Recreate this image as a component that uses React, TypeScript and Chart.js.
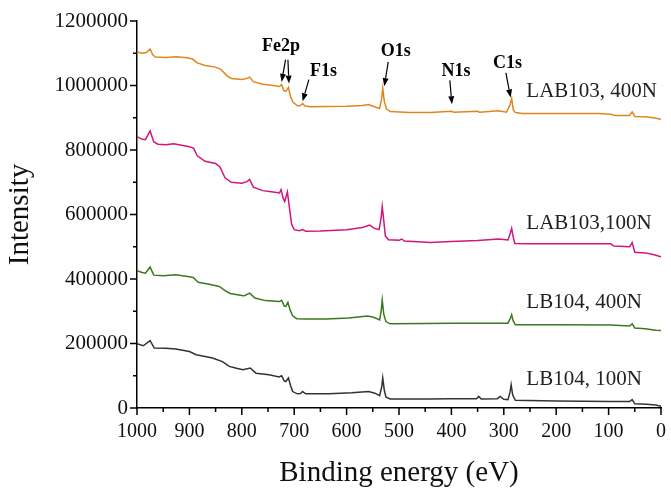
import React, { useEffect, useRef } from 'react';
import { Chart, registerables } from 'chart.js';

Chart.register(...registerables);

// ---------- data (binding energy in eV, intensity in counts) ----------
const lab103_400_ev = [1000, 990, 982, 975, 970, 965, 945, 925, 905, 894, 885, 870, 850, 840, 828, 820, 800, 790, 785, 778, 760, 740, 728, 724, 720, 716, 711, 707, 702, 694, 688, 684, 680, 670, 640, 600, 570, 558, 548, 537, 533, 531, 528, 524, 517, 480, 440, 400, 395, 350, 346, 310, 295, 288, 285, 282, 278, 265, 200, 120, 96, 88, 60, 55, 50, 30, 15, 0];
const lab103_400_int = [1104000, 1100000, 1102000, 1113000, 1095000, 1088000, 1087000, 1089000, 1086000, 1082000, 1070000, 1062000, 1057000, 1050000, 1030000, 1022000, 1019000, 1022000, 1026000, 1012000, 1004000, 1000000, 997000, 1003000, 985000, 982000, 994000, 965000, 948000, 937000, 938000, 944000, 937000, 934000, 935000, 936000, 938000, 941000, 935000, 929000, 960000, 992000, 950000, 928000, 919000, 916000, 916000, 920000, 917000, 920000, 917000, 922000, 917000, 940000, 960000, 925000, 916000, 913000, 913000, 913000, 911000, 907000, 907000, 918000, 904000, 903000, 900000, 895000];

const lab103_100_ev = [1000, 990, 984, 975, 968, 960, 945, 930, 915, 900, 892, 885, 870, 850, 842, 832, 820, 800, 790, 785, 778, 760, 740, 728, 725, 721, 718, 713, 709, 705, 700, 690, 684, 678, 650, 600, 570, 556, 547, 538, 534, 532, 529, 526, 520, 500, 495, 490, 440, 400, 350, 310, 292, 287, 285, 282, 279, 250, 150, 96, 90, 60, 55, 50, 30, 15, 0];
const lab103_100_int = [841000, 833000, 832000, 859000, 825000, 818000, 816000, 819000, 815000, 810000, 806000, 782000, 765000, 758000, 748000, 714000, 700000, 697000, 702000, 709000, 685000, 674000, 670000, 667000, 677000, 650000, 640000, 670000, 620000, 570000, 553000, 550000, 553000, 548000, 549000, 553000, 560000, 567000, 557000, 553000, 590000, 625000, 580000, 533000, 522000, 520000, 524000, 518000, 513000, 516000, 519000, 524000, 521000, 545000, 557000, 530000, 510000, 509000, 509000, 509000, 502000, 500000, 513000, 483000, 481000, 476000, 469000];

const lb104_400_ev = [1000, 990, 984, 975, 968, 950, 926, 900, 893, 883, 860, 843, 830, 822, 800, 795, 785, 775, 755, 735, 728, 724, 719, 716, 712, 708, 703, 695, 680, 640, 596, 560, 550, 545, 537, 534, 532, 529, 525, 517, 450, 400, 320, 292, 287, 285, 282, 278, 200, 96, 60, 55, 50, 30, 10, 0];
const lb104_400_int = [426000, 420000, 418000, 437000, 412000, 410000, 413000, 407000, 405000, 390000, 383000, 377000, 362000, 355000, 349000, 348000, 356000, 341000, 333000, 331000, 330000, 334000, 316000, 315000, 328000, 305000, 286000, 277000, 276000, 276000, 279000, 285000, 282000, 279000, 273000, 300000, 335000, 290000, 268000, 261000, 262000, 263000, 263000, 263000, 280000, 289000, 270000, 258000, 258000, 257000, 254000, 261000, 248000, 246000, 241000, 240000];

const lb104_100_ev = [1000, 988, 975, 967, 945, 926, 900, 887, 870, 856, 837, 824, 810, 798, 784, 773, 748, 729, 724, 719, 716, 711, 707, 703, 694, 688, 684, 678, 634, 590, 558, 546, 537, 533, 531, 528, 525, 517, 444, 400, 352, 348, 343, 312, 307, 300, 292, 288, 286, 283, 278, 200, 96, 60, 55, 50, 27, 10, 0];
const lb104_100_int = [199000, 193000, 209000, 186000, 185000, 183000, 175000, 165000, 160000, 155000, 144000, 129000, 123000, 119000, 124000, 108000, 103000, 96000, 100000, 84000, 82000, 93000, 70000, 51000, 44000, 45000, 51000, 44000, 44000, 47000, 51000, 46000, 38000, 65000, 93000, 55000, 34000, 28000, 28000, 29000, 29000, 36000, 28000, 29000, 36000, 27000, 26000, 50000, 72000, 40000, 24000, 22000, 20000, 20000, 26000, 13000, 12000, 9000, 5000];

const seriesNames = ['LAB103, 400N', 'LAB103,100N', 'LB104, 400N', 'LB104, 100N'];
const seriesColors = ['#E0861C', '#D4157A', '#3A7A1E', '#333333'];

const yTickValues = [0, 200000, 400000, 600000, 800000, 1000000, 1200000];
const xTickValues = [1000, 900, 800, 700, 600, 500, 400, 300, 200, 100, 0];

// peak labels: text anchor (eV, intensity)
const peakNames = ['Fe2p', 'F1s', 'O1s', 'N1s', 'C1s'];
const peakTextEV = [725, 644, 506, 391, 293];
const peakTextInt = [1107000, 1029000, 1091000, 1029000, 1054000];
// arrows: [fromEV, fromInt, toEV, toInt]
const peakArrows = [
  [716.5, 1080000, 724, 1011000],
  [712, 1080000, 710, 1006000],
  [672, 1018000, 684, 951000],
  [520.5, 1073000, 528, 998000],
  [403, 1016000, 399, 942000],
  [296, 1039000, 287, 963000],
];
// series name anchors (eV of left edge, intensity at baseline)
const nameEV = [257, 257, 257, 257];
const nameInt = [963000, 556000, 309600, 72000];

const toPoints = (ev: number[], v: number[]) => ev.map((x, i) => ({ x, y: v[i] }));

const FONT = '"Liberation Serif", "Times New Roman", serif';

const decorPlugin = {
  id: 'xpsDecor',
  afterDraw(chart: any) {
    const { ctx, scales, chartArea } = chart;
    const xs = scales.x;
    const ys = scales.y;
    ctx.save();
    // tick marks (major + minor), outward
    ctx.strokeStyle = '#000';
    ctx.lineWidth = 1.5;
    ctx.beginPath();
    for (let v = 0; v <= 1200000; v += 100000) {
      const py = ys.getPixelForValue(v);
      const len = v % 200000 === 0 ? 7 : 4;
      ctx.moveTo(chartArea.left - len, py);
      ctx.lineTo(chartArea.left, py);
    }
    for (let v = 0; v <= 1000; v += 50) {
      const px = xs.getPixelForValue(v);
      const len = v % 100 === 0 ? 7 : 4;
      ctx.moveTo(px, chartArea.bottom);
      ctx.lineTo(px, chartArea.bottom + len);
    }
    ctx.stroke();

    // peak labels
    ctx.fillStyle = '#000';
    ctx.font = `bold 18px ${FONT}`;
    ctx.textAlign = 'center';
    ctx.textBaseline = 'alphabetic';
    peakNames.forEach((n, i) => {
      ctx.fillText(n, xs.getPixelForValue(peakTextEV[i]), ys.getPixelForValue(peakTextInt[i]));
    });
    // arrows
    ctx.lineWidth = 1.2;
    peakArrows.forEach((a) => {
      const x1 = xs.getPixelForValue(a[0]);
      const y1 = ys.getPixelForValue(a[1]);
      const x2 = xs.getPixelForValue(a[2]);
      const y2 = ys.getPixelForValue(a[3]);
      const ang = Math.atan2(y2 - y1, x2 - x1);
      const hl = 8;
      const hw = 3;
      const bx = x2 - hl * Math.cos(ang);
      const by = y2 - hl * Math.sin(ang);
      ctx.beginPath();
      ctx.moveTo(x1, y1);
      ctx.lineTo(bx, by);
      ctx.stroke();
      ctx.beginPath();
      ctx.moveTo(x2, y2);
      ctx.lineTo(bx + hw * Math.sin(ang), by - hw * Math.cos(ang));
      ctx.lineTo(bx - hw * Math.sin(ang), by + hw * Math.cos(ang));
      ctx.closePath();
      ctx.fill();
    });

    // series names
    ctx.font = `21px ${FONT}`;
    ctx.textAlign = 'left';
    ctx.fillStyle = '#222';
    seriesNames.forEach((n, i) => {
      ctx.fillText(n, xs.getPixelForValue(nameEV[i]), ys.getPixelForValue(nameInt[i]));
    });
    ctx.restore();
  },
};

export default function App() {
  const ref = useRef<HTMLCanvasElement | null>(null);
  useEffect(() => {
    document.body.style.margin = '0';
    document.body.style.overflow = 'hidden';
    if (!ref.current) return;
    const data = [
      toPoints(lab103_400_ev, lab103_400_int),
      toPoints(lab103_100_ev, lab103_100_int),
      toPoints(lb104_400_ev, lb104_400_int),
      toPoints(lb104_100_ev, lb104_100_int),
    ];
    const chart = new Chart(ref.current, {
      type: 'line',
      data: {
        datasets: data.map((d, i) => ({
          label: seriesNames[i],
          data: d,
          borderColor: seriesColors[i],
          borderWidth: 1.5,
          pointRadius: 0,
          tension: 0,
          fill: false,
        })),
      },
      options: {
        animation: false,
        responsive: false,
        devicePixelRatio: 1,
        layout: { padding: { top: 21, right: 7, left: 0, bottom: 0 } },
        plugins: { legend: { display: false }, tooltip: { enabled: false } },
        scales: {
          x: {
            type: 'linear',
            reverse: true,
            min: 0,
            max: 1000,
            afterBuildTicks: (s: any) => {
              s.ticks = xTickValues.map((v) => ({ value: v }));
            },
            afterFit: (s: any) => {
              s.height = 80;
            },
            grid: { display: true, drawOnChartArea: false, drawTicks: true, tickLength: 7, tickColor: 'rgba(0,0,0,0)' },
            border: { display: true, color: '#000', width: 1.5 },
            ticks: {
              color: '#111',
              padding: 5,
              maxRotation: 0,
              autoSkip: false,
              font: { family: FONT, size: 20 },
              callback: (v: any) => String(v),
            },
            title: {
              display: true,
              text: 'Binding energy (eV)',
              color: '#111',
              font: { family: FONT, size: 29, lineHeight: 1 },
              padding: { top: 0, bottom: 0 },
            },
          },
          y: {
            type: 'linear',
            min: 0,
            max: 1200000,
            afterBuildTicks: (s: any) => {
              s.ticks = yTickValues.map((v) => ({ value: v }));
            },
            afterFit: (s: any) => {
              s.width = 137;
            },
            grid: { display: true, drawOnChartArea: false, drawTicks: true, tickLength: 7, tickColor: 'rgba(0,0,0,0)' },
            border: { display: true, color: '#000', width: 1.5 },
            ticks: {
              color: '#111',
              padding: 2,
              autoSkip: false,
              font: { family: FONT, size: 21 },
              callback: (v: any) => String(v),
            },
            title: {
              display: true,
              text: 'Intensity',
              color: '#111',
              font: { family: FONT, size: 29, lineHeight: 1 },
              padding: { top: 6, bottom: 0 },
            },
          },
        },
      },
      plugins: [decorPlugin],
    });
    return () => chart.destroy();
  }, []);
  return (
    <div style={{ width: 671, height: 488, background: '#fff' }}>
      <canvas ref={ref} width={671} height={488} style={{ display: 'block' }} />
    </div>
  );
}
